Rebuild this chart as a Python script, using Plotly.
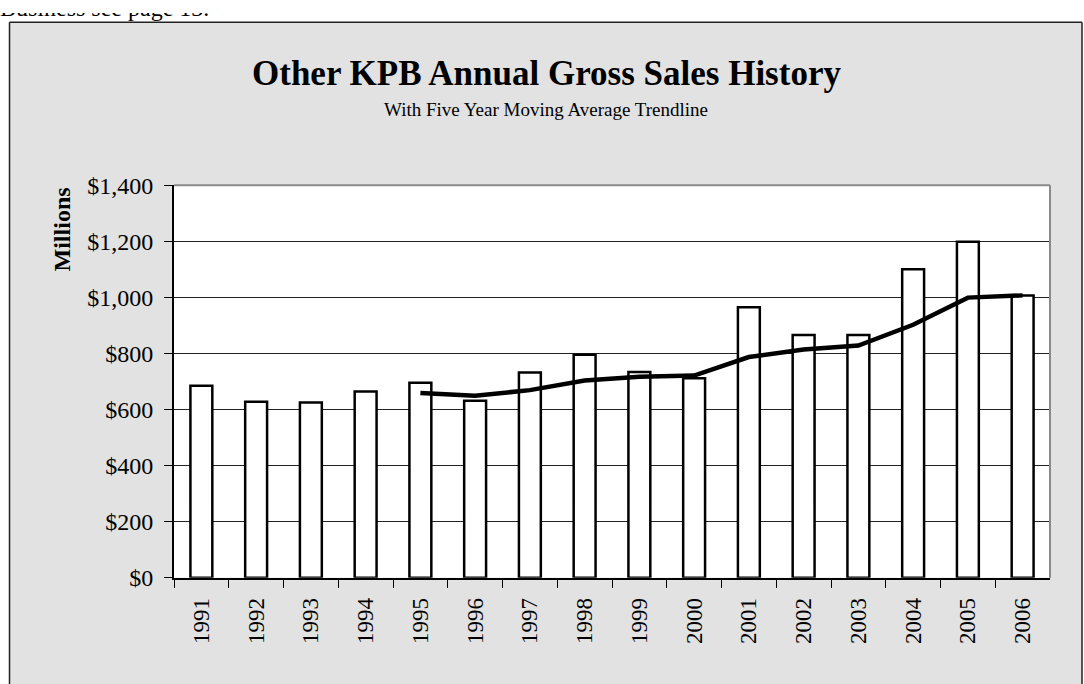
import plotly.graph_objects as go

W, H = 1084, 684

years = [str(y) for y in range(1991, 2007)]
sales = [685, 628, 625, 664, 695, 631, 732, 795, 734, 711, 965, 866, 866, 1100, 1198, 1007]
ma_years = [str(y) for y in range(1995, 2007)]
ma_values = [659, 649, 669, 703, 717, 721, 787, 814, 828, 902, 999, 1007]
ytick_vals = [0, 200, 400, 600, 800, 1000, 1200, 1400]
ytick_text = ["$0", "$200", "$400", "$600", "$800", "$1,000", "$1,200", "$1,400"]

title = "Other KPB Annual Gross Sales History"
subtitle = "With Five Year Moving Average Trendline"
ytitle = "Millions"
header = "Business see page 13."

FONT = "Liberation Serif"

# plot area in pixels
px0, px1 = 174, 1050
py0, py1 = 179, 587  # top, bottom
box_l, box_r, box_t = 9.5, 1082, 9.5


def fx(p):
    return p / W


def fy(p):
    return 1 - p / H


fig = go.Figure()
fig.add_trace(go.Bar(
    x=years, y=sales,
    marker=dict(color="white", line=dict(color="black", width=2.5)),
    showlegend=False,
))
fig.add_trace(go.Scatter(
    x=ma_years, y=ma_values, mode="lines",
    line=dict(color="black", width=4.5),
    showlegend=False,
))
# header text above the box, clipped at the top edge like the source page
fig.add_trace(go.Scatter(
    x=[0], y=[0], mode="text", text=[header],
    textposition="top right",
    textfont=dict(family=FONT, size=24, color="black"),
    cliponaxis=True, showlegend=False, hoverinfo="skip",
    xaxis="x2", yaxis="y2",
))

fig.update_layout(
    width=W, height=H, autosize=False,
    margin=dict(l=0, r=0, t=0, b=0),
    paper_bgcolor="white",
    plot_bgcolor="white",
    bargap=0.6,
    font=dict(family=FONT, color="black", size=24),
    xaxis=dict(
        domain=[fx(px0), fx(px1)],
        type="category",
        range=[-0.5, 15.5],
        tickson="boundaries",
        ticks="outside", ticklen=8, tickwidth=1, tickcolor="black",
        tickangle=-90,
        tickfont=dict(family=FONT, size=23, color="black"),
        showline=True, linecolor="black", linewidth=2,
        showgrid=False,
        ticklabelstandoff=9,
    ),
    yaxis=dict(
        domain=[fy(py1), fy(py0)],
        range=[0, 1400],
        tickvals=ytick_vals, ticktext=ytick_text,
        ticks="outside", ticklen=8, tickwidth=1, tickcolor="black",
        tickfont=dict(family=FONT, size=24, color="black"),
        showline=True, linecolor="black", linewidth=2,
        showgrid=True, gridcolor="#222222", gridwidth=1,
        zeroline=False,
        ticklabelstandoff=6,
    ),
    xaxis2=dict(domain=[0, 0.3], range=[0, 1], visible=False,
                anchor="y2", fixedrange=True),
    yaxis2=dict(domain=[fy(9), 1], range=[0, 1], visible=False,
                anchor="x2", fixedrange=True),
    shapes=[
        dict(type="rect", xref="paper", yref="paper", layer="below",
             x0=fx(box_l), x1=fx(box_r), y0=-0.05, y1=fy(box_t),
             fillcolor="#e2e2e2", line=dict(width=0)),
        dict(type="line", xref="paper", yref="paper", layer="below",
             x0=fx(box_l), x1=fx(box_r), y0=fy(box_t), y1=fy(box_t),
             line=dict(color="#222222", width=1.5)),
        dict(type="line", xref="paper", yref="paper", layer="below",
             x0=fx(box_l), x1=fx(box_l), y0=-0.05, y1=fy(box_t),
             line=dict(color="#222222", width=1.5)),
        dict(type="line", xref="paper", yref="paper", layer="below",
             x0=fx(box_r), x1=fx(box_r), y0=-0.05, y1=fy(box_t),
             line=dict(color="#222222", width=1.5)),
        dict(type="rect", xref="paper", yref="paper", layer="below",
             x0=fx(px0), x1=fx(px1), y0=fy(py1), y1=fy(py0),
             fillcolor="white", line=dict(width=0)),
        dict(type="line", xref="paper", yref="paper", layer="above",
             x0=fx(px0), x1=fx(px1), y0=fy(py0), y1=fy(py0),
             line=dict(color="#8a8a8a", width=2)),
        dict(type="line", xref="paper", yref="paper", layer="above",
             x0=fx(px1), x1=fx(px1), y0=fy(py0), y1=fy(py1),
             line=dict(color="#8a8a8a", width=2)),
    ],
    annotations=[
        dict(text="<b>" + title + "</b>", xref="paper", yref="paper",
             x=fx(546), y=fy(63), xanchor="center", yanchor="middle",
             showarrow=False, font=dict(family=FONT, size=35, color="black")),
        dict(text=subtitle, xref="paper", yref="paper",
             x=fx(546), y=fy(100), xanchor="center", yanchor="middle",
             showarrow=False, font=dict(family=FONT, size=19, color="black")),
        dict(text="<b>" + ytitle + "</b>", xref="paper", yref="paper",
             x=fx(62), y=fy(225), xanchor="center", yanchor="middle",
             textangle=-90,
             showarrow=False, font=dict(family=FONT, size=24, color="black")),
    ],
)

fig.write_html(
    "out.html",
    config={"displayModeBar": False, "staticPlot": True},
    post_script="document.body.style.margin='0';document.body.style.overflow='hidden';",
)
